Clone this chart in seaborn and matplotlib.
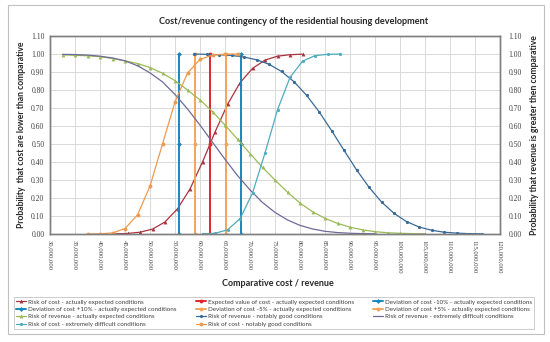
import matplotlib
matplotlib.use("Agg")
import matplotlib.pyplot as plt
import seaborn as sns
import pandas as pd
from matplotlib.patches import Rectangle

# x values in millions
cost_exp_x = [43.0, 45.5, 48.0, 50.5, 53.0, 55.5, 58.0, 60.5, 63.0, 65.5, 68.0, 70.5, 73.0, 75.5, 78.0, 80.5]
cost_exp_y = [0.001, 0.003, 0.01, 0.027, 0.067, 0.14, 0.25, 0.40, 0.566, 0.72, 0.84, 0.92, 0.966, 0.988, 0.996, 0.999]

expected_cost = 62.0
dev_minus10 = 55.8
dev_plus10 = 68.2
dev_minus5 = 58.9
dev_plus5 = 65.1
vert_y = [0.0, 0.5, 1.0]

rev_exp_x = [32.5, 35.0, 37.5, 40.0, 42.5, 45.0, 47.5, 50.0, 52.5, 55.0, 57.5, 60.0, 62.5, 65.0, 67.5,
             70.0, 72.5, 75.0, 77.5, 80.0, 82.5, 85.0, 87.5, 90.0, 92.5, 95.0, 97.5, 100.0, 102.5, 105.0]
rev_exp_y = [0.995, 0.993, 0.99, 0.985, 0.975, 0.962, 0.947, 0.925, 0.893, 0.852, 0.80, 0.745, 0.68, 0.605, 0.527,
             0.447, 0.37, 0.30, 0.232, 0.172, 0.124, 0.087, 0.059, 0.038, 0.023, 0.013, 0.007, 0.004, 0.002, 0.001]

rev_good_x = [58.8, 61.3, 63.8, 66.3, 68.8, 71.3, 73.8, 76.3, 78.8, 81.3, 83.8, 86.3, 88.8, 91.3, 93.8,
              96.3, 98.8, 101.3, 103.8, 106.3, 108.8, 111.3, 113.8, 116.3]
rev_good_y = [1.0, 0.998, 0.996, 0.992, 0.983, 0.968, 0.943, 0.903, 0.846, 0.771, 0.68, 0.575, 0.465, 0.357, 0.26,
              0.178, 0.115, 0.069, 0.039, 0.021, 0.010, 0.005, 0.002, 0.001]

rev_diff_x = [32.5, 35.0, 37.5, 40.0, 42.5, 45.0, 47.5, 50.0, 52.5, 55.0, 57.5, 60.0, 62.5, 65.0, 67.5,
              70.0, 72.5, 75.0, 77.5, 80.0, 82.5, 85.0, 87.5, 90.0, 92.5, 95.0]
rev_diff_y = [0.998, 0.997, 0.994, 0.988, 0.978, 0.962, 0.935, 0.895, 0.845, 0.775, 0.695, 0.605, 0.51, 0.415, 0.325,
              0.245, 0.175, 0.12, 0.078, 0.048, 0.028, 0.015, 0.008, 0.004, 0.002, 0.001]

cost_diff_x = [60.5, 63.0, 65.5, 68.0, 70.5, 73.0, 75.5, 78.0, 80.5, 83.0, 85.5, 88.0]
cost_diff_y = [0.001, 0.004, 0.023, 0.085, 0.227, 0.45, 0.69, 0.87, 0.96, 0.991, 0.998, 1.0]

cost_good_x = [37.5, 40.0, 42.5, 45.0, 47.5, 50.0, 52.5, 55.0, 57.5, 60.0, 62.5, 65.0, 67.5]
cost_good_y = [0.0, 0.001, 0.006, 0.030, 0.106, 0.266, 0.50, 0.734, 0.894, 0.970, 0.994, 0.999, 1.0]

x_ticks = list(range(30, 121, 5))
y_ticks = [i / 10 for i in range(12)]

sns.set_style("white")
plt.rcParams['font.family'] = ['Lato', 'DejaVu Sans']

fig = plt.figure(figsize=(5.5, 3.42), dpi=100)
fig.patches.append(Rectangle((8 / 550, 1 - 334 / 342), 536 / 550, 329 / 342, transform=fig.transFigure,
                             fill=False, edgecolor='#BFBFBF', lw=0.8))
ax = fig.add_axes([50 / 550, 1 - 234 / 342, 450 / 550, 198 / 342])

c_cost = '#A8343F'
c_exp = '#E0262B'
c_dev10 = '#1A86BF'
c_dev5 = '#F2A45C'
c_rev = '#9BBB59'
c_good = '#3A6A96'
c_diff = '#6E6A99'
c_costd = '#4FACBE'
c_costg = '#EE9A4D'

def curve(x, y, color, label, marker=None, lw=0.9, ms=2.8):
    sns.lineplot(x=x, y=y, ax=ax, color=color, label=label, marker=marker, markersize=ms,
                 markeredgewidth=0, lw=lw, estimator=None, sort=False)

curve(cost_exp_x, cost_exp_y, c_cost, "Risk of cost - actually expected conditions", marker='^')
curve([expected_cost] * 3, vert_y, c_exp, "Expected value of cost - actually expected conditions", marker='o', lw=1.4)
curve([dev_minus10] * 3, vert_y, c_dev10, "Deviation of cost -10% - actually expected conditions", marker='D', lw=1.4, ms=2.5)
curve([dev_plus10] * 3, vert_y, c_dev10, "Deviation of cost +10% - actually expected conditions", marker='D', lw=1.4, ms=2.5)
curve([dev_minus5] * 3, vert_y, c_dev5, "Deviation of cost -5% - actually expected conditions", marker='o', lw=1.4)
curve([dev_plus5] * 3, vert_y, c_dev5, "Deviation of cost +5% - actually expected conditions", marker='o', lw=1.4)
curve(rev_exp_x, rev_exp_y, c_rev, "Risk of revenue - actually expected conditions", marker='^')
curve(rev_good_x, rev_good_y, c_good, "Risk of revenue - notably good conditions", marker='o', ms=2.3)
curve(rev_diff_x, rev_diff_y, c_diff, "Risk of revenue - extremely difficult conditions")
curve(cost_diff_x, cost_diff_y, c_costd, "Risk of cost - extremely difficult conditions", marker='o', ms=2.3)
curve(cost_good_x, cost_good_y, c_costg, "Risk of cost - notably good conditions", marker='o')

ax.set_xlim(30, 120)
ax.set_ylim(0, 1.1)
ax.set_xticks(x_ticks)
ax.set_xticklabels([f"{v * 1000000:,}" for v in x_ticks], rotation=270, fontsize=4.8,
                   family='Liberation Serif', color='#404040')
ax.set_yticks(y_ticks)
ax.set_yticklabels([f"{v:.2f}" for v in y_ticks], fontsize=5.5, family='Liberation Serif', color='#404040')
ax.grid(True, color='#D9D9D9', lw=0.7)
ax.tick_params(length=0, pad=4)
for s in ax.spines.values():
    s.set_color('#7F7F7F')
    s.set_linewidth(1.0)

ax2 = ax.twinx()
ax2.set_ylim(0, 1.1)
ax2.set_yticks(y_ticks)
ax2.set_yticklabels([f"{v:.2f}" for v in y_ticks], fontsize=5.5, family='Liberation Serif', color='#404040')
ax2.tick_params(length=0, pad=6)
for s in ax2.spines.values():
    s.set_color('#7F7F7F')
    s.set_linewidth(1.0)

ax.set_xlabel("Comparative cost / revenue", fontsize=6.5, fontweight='bold', va='center')
ax.xaxis.set_label_coords(0.507, -0.2525)
ax.set_ylabel("Probability  that cost are lower than comparative", fontsize=6.2, fontweight='bold', labelpad=4)
ax2.set_ylabel("Probability that revenue is greater then comparative", fontsize=6.2, fontweight='bold', labelpad=6)
ax.set_title("Cost/revenue contingency of the residential housing development", fontsize=6.6,
             fontweight='bold', pad=9, x=0.542)

handles, labels = ax.get_legend_handles_labels()
ax.get_legend().remove()
order = [0, 3, 6, 9, 1, 4, 7, 10, 2, 5, 8]
leg = fig.legend([handles[i] for i in order], [labels[i] for i in order], ncol=3, loc='upper left',
                 bbox_to_anchor=(14 / 550, 1 - 331 / 342, 520 / 550, 34 / 342), mode='expand',
                 fontsize=4.5, frameon=True, fancybox=False, edgecolor='#BFBFBF', borderpad=0.35,
                 labelspacing=0.32, handlelength=1.6, handletextpad=0.3, borderaxespad=0)
leg.get_frame().set_linewidth(0.7)
for t in leg.get_texts():
    t.set_color('#404040')

fig.savefig("out.png", dpi=100)
